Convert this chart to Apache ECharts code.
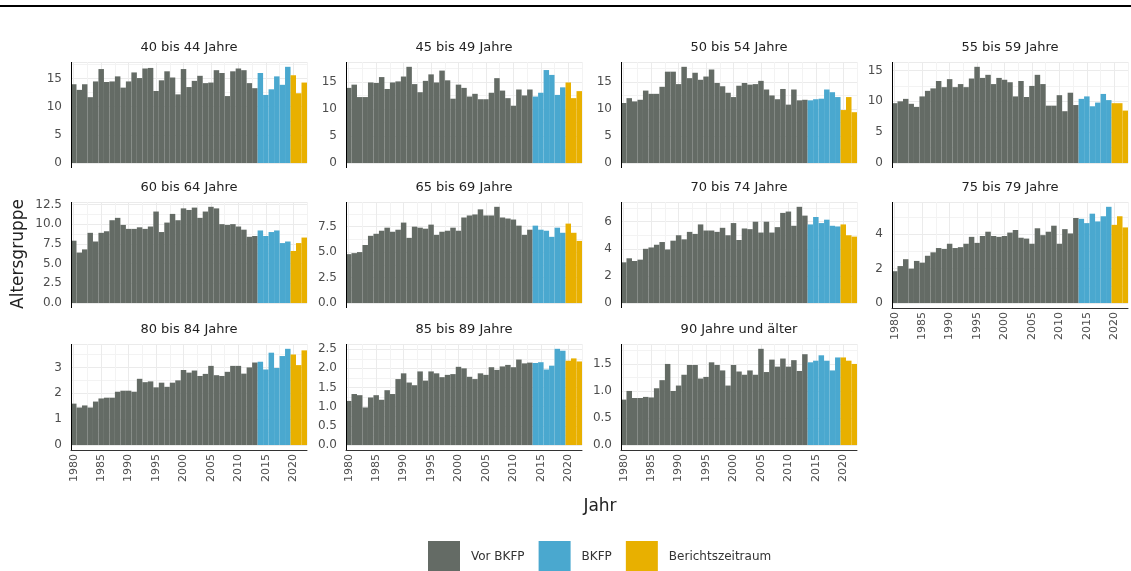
<!DOCTYPE html>
<html>
<head>
<meta charset="utf-8">
<title>Altersgruppen 1980-2022</title>
<script src="https://cdn.jsdelivr.net/npm/echarts@6/dist/echarts.min.js"></script>
<style>body{margin:0;background:#fff}</style>
</head>
<body>
<div id="main" style="width:1131px;height:571px"></div>
<script type="text/javascript">
var years = ['1980','1981','1982','1983','1984','1985','1986','1987','1988','1989',
    '1990','1991','1992','1993','1994','1995','1996','1997','1998','1999',
    '2000','2001','2002','2003','2004','2005','2006','2007','2008','2009',
    '2010','2011','2012','2013','2014','2015','2016','2017','2018','2019',
    '2020','2021','2022'];

var groups = ['40 bis 44 Jahre', '45 bis 49 Jahre', '50 bis 54 Jahre', '55 bis 59 Jahre',
    '60 bis 64 Jahre', '65 bis 69 Jahre', '70 bis 74 Jahre', '75 bis 79 Jahre',
    '80 bis 84 Jahre', '85 bis 89 Jahre', '90 Jahre und älter'];

// Werte je Altersgruppe, 1980 bis 2022
var v4044 = [14.0,13.0,14.0,11.7,14.5,16.7,14.4,14.5,15.4,13.4,14.5,16.1,15.1,16.8,16.9,12.8,14.7,16.3,15.2,12.2,16.7,13.5,14.6,15.5,14.2,14.3,16.5,16.0,11.9,16.3,16.8,16.5,14.2,13.3,
    16.0,12.1,13.1,15.4,13.9,17.1, 15.6,12.4,14.3];
var v4549 = [13.9,14.5,12.2,12.2,14.9,14.8,15.9,13.7,14.9,15.1,16.0,17.8,14.6,13.1,15.2,16.4,14.9,17.1,15.3,11.9,14.5,13.9,12.3,12.8,11.8,11.8,13.0,15.7,13.4,12.0,10.6,13.6,12.5,13.6,
    12.3,13.0,17.2,16.3,12.6,14.0, 14.9,12.0,13.3];
var v5054 = [11.1,12.0,11.4,11.7,13.4,12.8,12.8,14.1,16.9,16.9,14.6,17.8,15.7,16.7,15.4,16.0,17.3,14.8,14.2,13.0,12.2,14.3,14.8,14.5,14.6,15.2,13.6,12.5,11.8,13.7,10.8,13.6,11.6,11.7,
    11.6,11.8,11.9,13.6,13.1,12.2, 9.8,12.2,9.4];
var v5559 = [9.7,10.0,10.4,9.6,9.1,10.8,11.7,12.1,13.3,12.3,13.6,12.3,12.8,12.3,13.7,15.6,13.8,14.3,12.8,13.8,13.5,13.1,10.8,13.3,10.7,12.5,14.3,12.8,9.3,9.3,11.0,8.4,11.4,9.4,
    10.4,10.8,9.2,9.8,11.2,10.2, 9.7,9.7,8.5];
var v6064 = [7.9,6.4,6.8,8.9,7.8,8.9,9.1,10.5,10.8,9.9,9.4,9.4,9.6,9.4,9.7,11.6,9.0,10.2,11.3,10.5,12.0,11.8,12.1,10.8,11.6,12.2,12.0,10.0,9.9,10.0,9.7,9.3,8.4,8.5,
    9.2,8.5,9.0,9.2,7.6,7.8, 6.6,7.6,8.3];
var v6569 = [4.8,4.9,5.0,5.7,6.6,6.8,7.1,7.4,7.0,7.2,7.9,6.4,7.5,7.4,7.3,7.7,6.7,7.0,7.1,7.4,7.1,8.4,8.6,8.7,9.2,8.6,8.6,9.45,8.4,8.3,8.2,7.6,6.7,7.2,
    7.6,7.2,7.1,6.5,7.4,6.9, 7.8,6.9,6.1];
var v7074 = [3.0,3.3,3.1,3.2,4.0,4.1,4.3,4.5,3.95,4.6,5.0,4.7,5.25,5.1,5.8,5.35,5.35,5.25,5.55,5.0,5.9,4.65,5.5,5.45,6.0,5.2,6.0,5.2,5.6,6.65,6.75,5.7,7.1,6.45,
    5.8,6.35,5.9,6.15,5.7,5.65, 5.8,5.0,4.9];
var v7579 = [1.85,2.15,2.55,2.0,2.45,2.35,2.75,2.95,3.2,3.15,3.45,3.2,3.25,3.45,3.85,3.5,3.9,4.15,3.9,3.85,3.9,4.1,4.25,3.8,3.75,3.45,4.35,3.95,4.15,4.5,3.45,4.3,4.05,4.95,
    4.9,4.65,5.2,4.75,5.05,5.6, 4.55,5.05,4.4];
var v8084 = [1.6,1.45,1.53,1.45,1.68,1.8,1.83,1.83,2.06,2.1,2.1,2.06,2.56,2.43,2.46,2.23,2.41,2.25,2.41,2.5,2.9,2.8,2.88,2.67,2.75,3.06,2.7,2.67,2.83,3.06,3.06,2.76,3.0,3.19,
    3.22,2.92,3.57,2.98,3.44,3.72, 3.5,3.09,3.66];
var v8589 = [1.15,1.33,1.3,0.98,1.24,1.3,1.18,1.43,1.33,1.72,1.87,1.63,1.56,1.92,1.68,1.92,1.87,1.77,1.83,1.85,2.04,2.0,1.78,1.72,1.87,1.83,2.03,1.96,2.05,2.09,2.03,2.23,2.13,2.15,
    2.14,2.16,1.97,2.07,2.51,2.46, 2.2,2.26,2.18];
var v90 = [0.84,1.0,0.87,0.87,0.89,0.88,1.05,1.2,1.5,1.0,1.1,1.3,1.48,1.48,1.23,1.26,1.53,1.48,1.38,1.1,1.48,1.36,1.3,1.38,1.3,1.78,1.35,1.58,1.45,1.6,1.45,1.57,1.37,1.68,
    1.53,1.56,1.66,1.56,1.38,1.62, 1.62,1.56,1.5];

var panelValues = [v4044, v4549, v5054, v5559, v6064, v6569, v7074, v7579, v8084, v8589, v90];
var yStep = [5, 5, 5, 5, 2.5, 2.5, 2, 2, 1, 0.5, 0.5];
var yDigits = [0, 0, 0, 0, 1, 1, 0, 0, 0, 1, 1];

var phaseNames = ['Vor BKFP', 'BKFP', 'Berichtszeitraum'];
var phaseFrom = ['1980', '2014', '2020'];
var phaseTo = ['2013', '2019', '2022'];
var phaseColors = ['#646b65', '#4aa8cf', '#e8b000'];

var font = '"DejaVu Sans", Verdana, sans-serif';
var colLeft = [71, 346, 621, 892];
var rowTop = [62, 202, 344];
var panelW = 236, panelH = 106, gap = 5;   // gap: Luft unter der Null-Linie

var myChart = echarts.init(document.getElementById('main'));

var grids = [], xAxes = [], yAxes = [], series = [], extras = [];

panelValues.forEach(function (vals, p) {
    var row = Math.floor(p / 4), col = p % 4;
    var showX = row === 2 || p === 7;
    var top = Math.max.apply(null, vals);
    var step = yStep[p], digits = yDigits[p];

    grids.push({ left: colLeft[col], top: rowTop[row], width: panelW, height: panelH - gap });

    // Hauptachse mit Beschriftung und Gitter auf 1980, 1985, ...
    xAxes.push({
        gridIndex: p, type: 'category', data: years, boundaryGap: true, offset: gap,
        axisLine: { show: showX, onZero: false, lineStyle: { color: '#333', width: 1 } },
        axisTick: { show: false },
        axisLabel: {
            show: showX, rotate: 90, margin: 4, fontSize: 11, color: '#4d4d4d', fontFamily: font,
            interval: function (i) { return i % 5 === 0; }
        },
        splitLine: {
            show: true, alignWithLabel: true,
            interval: function (i) { return i % 5 === 0; },
            lineStyle: { color: '#ebebeb', width: 1 }
        }
    });
    // Hilfsachse nur für die Zwischenlinien (1982.5, 1987.5, ...)
    xAxes.push({
        gridIndex: p, type: 'category', data: years, boundaryGap: true,
        axisLine: { show: false }, axisTick: { show: false }, axisLabel: { show: false },
        splitLine: {
            show: true,
            interval: function (i) { return i % 5 === 3; },
            lineStyle: { color: '#f3f3f3', width: 1 }
        }
    });

    yAxes.push({
        gridIndex: p, type: 'value',
        min: 0, max: 1.05 * top, interval: step,
        axisLine: { show: false },
        axisTick: { show: false },
        axisLabel: {
            fontSize: 12, color: '#4d4d4d', fontFamily: font, margin: 9,
            formatter: function (v) {
                var k = v / step;
                if (Math.abs(k - Math.round(k)) > 1e-6) return '';
                return v.toFixed(digits);
            }
        },
        splitLine: { lineStyle: { color: '#ebebeb', width: 1 } },
        minorTick: { show: false, splitNumber: 2 },
        minorSplitLine: { show: true, lineStyle: { color: '#f3f3f3', width: 1 } }
    });

    phaseNames.forEach(function (name, k) {
        var from = years.indexOf(phaseFrom[k]), to = years.indexOf(phaseTo[k]);
        series.push({
            type: 'bar', name: name, stack: 'g' + p,
            xAxisIndex: 2 * p, yAxisIndex: p,
            barCategoryGap: '0%', silent: true,
            itemStyle: { color: phaseColors[k] },
            data: vals.map(function (v, i) { return (i >= from && i <= to) ? v : null; })
        });
    });

    // linke Achsenlinie über die ganze Panelhöhe
    extras.push({
        type: 'line', z: 10,
        shape: { x1: colLeft[col] + 0.5, y1: rowTop[row], x2: colLeft[col] + 0.5, y2: rowTop[row] + panelH },
        style: { stroke: '#000', lineWidth: 1 }
    });
    extras.push({
        type: 'text', x: colLeft[col] + panelW / 2, y: rowTop[row] - 14,
        style: { text: groups[p], textAlign: 'center', textVerticalAlign: 'middle',
            fontSize: 13, fontFamily: font, fill: '#222' }
    });
});

extras.push({
    type: 'text', x: 19, y: 254, rotation: Math.PI / 2,
    style: { text: 'Altersgruppe', textAlign: 'center', textVerticalAlign: 'middle',
        fontSize: 17, fontFamily: font, fill: '#222' }
});
extras.push({
    type: 'text', x: 600, y: 507,
    style: { text: 'Jahr', textAlign: 'center', textVerticalAlign: 'middle',
        fontSize: 17, fontFamily: font, fill: '#222' }
});
extras.push({
    type: 'line', shape: { x1: 0, y1: 6, x2: 1131, y2: 6 },
    style: { stroke: '#000', lineWidth: 2 }
});

option = {
    animation: false,
    backgroundColor: '#fff',
    grid: grids,
    xAxis: xAxes,
    yAxis: yAxes,
    series: series,
    legend: {
        data: phaseNames, left: 428, top: 541, padding: 0, icon: 'rect',
        itemWidth: 32, itemHeight: 31, itemGap: 14, selectedMode: false,
        textStyle: { fontSize: 12, color: '#333', fontFamily: font, padding: [0, 0, 0, 6] }
    },
    graphic: extras
};
myChart.setOption(option);
</script>
</body>
</html>
